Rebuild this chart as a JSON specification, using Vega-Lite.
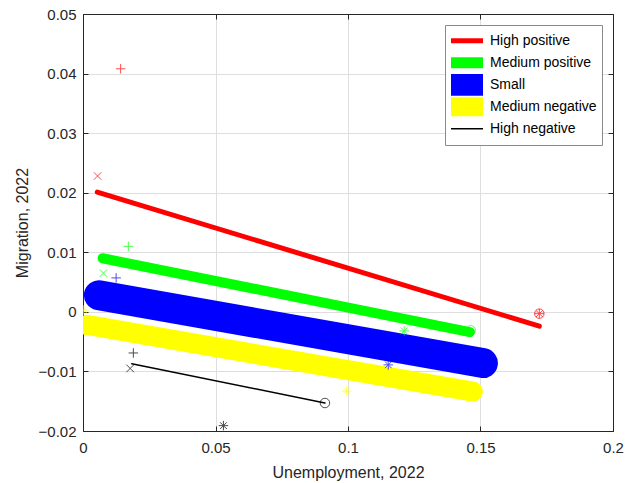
{
  "$schema": "https://vega.github.io/schema/vega-lite/v6.json",
  "width": 530,
  "height": 417,
  "autosize": "none",
  "padding": {"left": 83, "top": 14, "right": 13, "bottom": 52},
  "background": "white",
  "config": {
    "font": "Liberation Sans",
    "view": {"stroke": null},
    "axis": {
      "domainColor": "#262626",
      "domainWidth": 1,
      "tickColor": "#262626",
      "labelColor": "#262626",
      "titleColor": "#262626",
      "labelFont": "Liberation Sans",
      "titleFont": "Liberation Sans",
      "labelFontSize": 15,
      "titleFontSize": 16,
      "titleFontWeight": "normal",
      "gridColor": "#dedede",
      "gridWidth": 1
    }
  },
  "datasets": {
    "lines": [
      {"group": "High positive", "x": 0.0054, "y": 0.0201},
      {"group": "High positive", "x": 0.1722, "y": -0.0024},
      {"group": "Medium positive", "x": 0.0074, "y": 0.0090},
      {"group": "Medium positive", "x": 0.1460, "y": -0.0034},
      {"group": "Small", "x": 0.0060, "y": 0.0028},
      {"group": "Small", "x": 0.1509, "y": -0.0086},
      {"group": "Medium negative", "x": 0.0015, "y": -0.0022},
      {"group": "Medium negative", "x": 0.1471, "y": -0.0134},
      {"group": "High negative", "x": 0.0184, "y": -0.0087},
      {"group": "High negative", "x": 0.0913, "y": -0.0153}
    ],
    "points": [
      {"group": "High positive", "marker": "plus", "x": 0.0142, "y": 0.0408},
      {"group": "High positive", "marker": "x", "x": 0.0055, "y": 0.0228},
      {"group": "High positive", "marker": "star", "x": 0.1722, "y": -0.0003},
      {"group": "High positive", "marker": "circle", "x": 0.1722, "y": -0.0003},
      {"group": "Medium positive", "marker": "plus", "x": 0.0171, "y": 0.0110},
      {"group": "Medium positive", "marker": "x", "x": 0.0077, "y": 0.0065},
      {"group": "Medium positive", "marker": "star", "x": 0.1212, "y": -0.0032},
      {"group": "Medium positive", "marker": "circle", "x": 0.1463, "y": -0.0031},
      {"group": "Small", "marker": "plus", "x": 0.0125, "y": 0.0057},
      {"group": "Small", "marker": "star", "x": 0.1152, "y": -0.0089},
      {"group": "Medium negative", "marker": "star", "x": 0.0995, "y": -0.0133},
      {"group": "Medium negative", "marker": "star", "x": 0.0003, "y": 0.0003},
      {"group": "High negative", "marker": "plus", "x": 0.0190, "y": -0.0069},
      {"group": "High negative", "marker": "x", "x": 0.0178, "y": -0.0095},
      {"group": "High negative", "marker": "star", "x": 0.0530, "y": -0.0191},
      {"group": "High negative", "marker": "circle", "x": 0.0913, "y": -0.0153}
    ]
  },
  "layer": [
    {
      "data": {"name": "lines"},
      "mark": {"type": "line", "strokeCap": "round", "clip": true},
      "encoding": {
        "x": {"field": "x", "type": "quantitative",
          "scale": {"domain": [0, 0.2], "nice": false, "zero": false},
          "axis": {"title": "Unemployment, 2022", "values": [0, 0.05, 0.1, 0.15, 0.2], "format": "~g", "tickSize": -5, "labelPadding": 14, "titlePadding": 9, "grid": true, "labelFlush": false}},
        "y": {"field": "y", "type": "quantitative",
          "scale": {"domain": [-0.02, 0.05], "nice": false, "zero": false},
          "axis": {"title": "Migration, 2022", "values": [-0.02, -0.01, 0, 0.01, 0.02, 0.03, 0.04, 0.05], "format": "~g", "tickSize": -5, "labelPadding": 12, "titlePadding": 8, "grid": true, "labelFlush": false}},
        "detail": {"field": "group"},
        "color": {"field": "group", "type": "nominal",
          "scale": {"domain": ["High positive", "Medium positive", "Small", "Medium negative", "High negative"],
                    "range": ["#ff0000", "#00ff00", "#0000ff", "#ffff00", "#000000"]},
          "legend": {"title": null, "orient": "top-right", "offset": 11, "symbolType": "stroke", "symbolSize": 1024,
                     "symbolStrokeWidth": 1.5,
                     "labelFontSize": 14, "labelFont": "Liberation Sans", "labelColor": "#000000",
                     "fillColor": "white", "strokeColor": "#8a8a8a", "padding": 5, "rowPadding": 0, "clipHeight": 21.7, "labelOffset": 6,
                     "encode": {
                       "symbols": {"update": {"x": {"value": 17}, "strokeWidth": {"signal": "datum.value === 'Small' ? 24 : datum.value === 'Medium negative' ? 19 : datum.value === 'Medium positive' ? 11 : datum.value === 'High positive' ? 5 : 1.5"}}},
                       "labels": {"update": {"x": {"value": 40}}}
                     }}},
        "strokeWidth": {
          "condition": [
            {"test": "datum.group === 'High positive'", "value": 5},
            {"test": "datum.group === 'Medium positive'", "value": 10},
            {"test": "datum.group === 'Small'", "value": 30},
            {"test": "datum.group === 'Medium negative'", "value": 20}
          ],
          "value": 1.5
        }
      }
    },
    {
      "data": {"name": "points"},
      "mark": {"type": "point", "filled": false, "strokeWidth": 1, "size": 90, "clip": true},
      "encoding": {
        "x": {"field": "x", "type": "quantitative", "axis": null},
        "y": {"field": "y", "type": "quantitative", "axis": null},
        "stroke": {"field": "group", "type": "nominal",
          "scale": {"domain": ["High positive", "Medium positive", "Small", "Medium negative", "High negative"],
                    "range": ["#ff0000", "#00ff00", "#0000ff", "#ffff00", "#000000"]},
          "legend": null},
        "shape": {"field": "marker", "type": "nominal",
          "scale": {"domain": ["plus", "x", "star", "circle"],
                    "range": ["M-1,0L1,0M0,-1L0,1", "M-0.8,-0.8L0.8,0.8M-0.8,0.8L0.8,-0.8", "M-1,0L1,0M0,-1L0,1M-0.7,-0.7L0.7,0.7M-0.7,0.7L0.7,-0.7", "circle"]},
          "legend": null}
      }
    },
    {
      "data": {"values": [{"x": 0, "y": 0}]},
      "mark": {"type": "point", "opacity": 0},
      "encoding": {
        "x": {"field": "x", "type": "quantitative",
          "axis": {"orient": "top", "title": null, "labels": false, "values": [0, 0.05, 0.1, 0.15, 0.2], "tickSize": -5, "grid": false}},
        "y": {"field": "y", "type": "quantitative",
          "axis": {"orient": "right", "title": null, "labels": false, "values": [-0.02, -0.01, 0, 0.01, 0.02, 0.03, 0.04, 0.05], "tickSize": -5, "grid": false}}
      }
    }
  ],
  "resolve": {"axis": {"x": "independent", "y": "independent"}}
}
